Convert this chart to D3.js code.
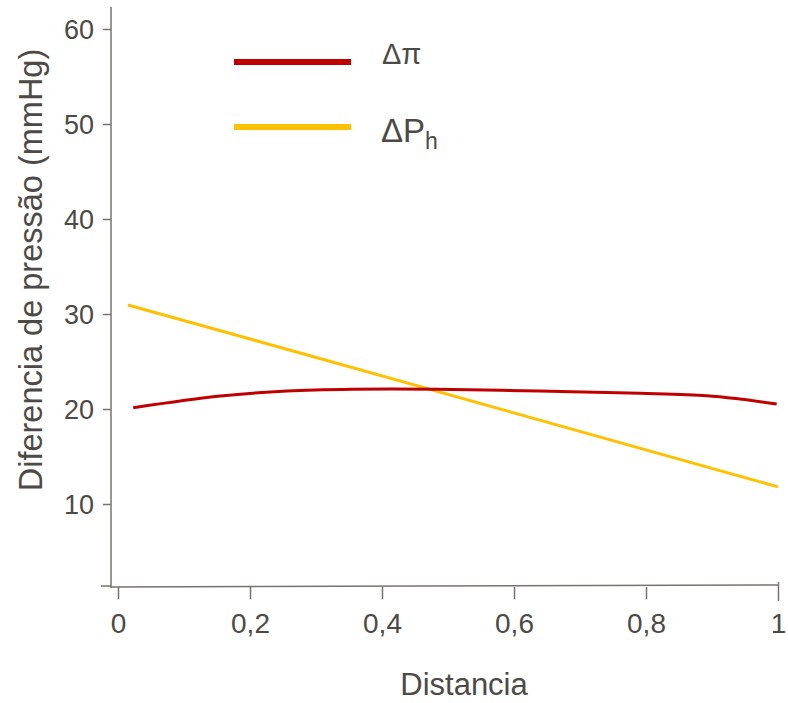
<!DOCTYPE html>
<html>
<head>
<meta charset="utf-8">
<script src="https://cdn.jsdelivr.net/npm/d3@7"></script>
<style>
  body { margin: 0; background: #fff; }
  svg { display: block; font-family: Arial, "Liberation Sans", sans-serif; }
</style>
</head>
<body>
<svg width="788" height="703"></svg>
<script>
// data
const xTicks = [0, 0.2, 0.4, 0.6, 0.8, 1];
const yTicks = [10, 20, 30, 40, 50, 60];

// Δπ (red)
const piX = [0.023, 0.155, 0.256, 0.356, 0.483, 0.639, 0.791, 0.892, 0.942, 0.998];
const piY = [20.14, 21.37, 21.89, 22.07, 22.07, 21.89, 21.65, 21.4, 21.05, 20.53];

// ΔPh (yellow)
const phX = [0.015, 0.276, 1];
const phY = [30.95, 25.9, 11.8];

const svg = d3.select('svg');
const textColor = '#4d4a45';
const axisColor = '#77736d';

// scales: 0 -> 118px, 1 -> 778px ; 10 -> 504px, 60 -> 29px
const xScale = d3.scaleLinear().domain([0, 1]).range([118, 778]);
const yScale = d3.scaleLinear().domain([10, 60]).range([504, 29]);
const yMin = yScale.invert(586);
const yTop = yScale.invert(7);

// y axis
const yAxis = d3.axisLeft(yScale)
    .tickValues(yTicks)
    .tickSize(8)
    .tickPadding(9)
    .tickFormat(d3.format('d'));

const gy = svg.append('g')
    .attr('transform', 'translate(111,0)')
    .call(yAxis);
gy.select('.domain').remove();
gy.append('line')
    .attr('x1', 0).attr('x2', 0)
    .attr('y1', yScale(yTop)).attr('y2', 588)
    .attr('stroke', axisColor).attr('stroke-width', 1.5);
// unlabeled tick at the bottom end
gy.append('line')
    .attr('x1', -10).attr('x2', 0)
    .attr('y1', yScale(yMin)).attr('y2', yScale(yMin))
    .attr('stroke', axisColor).attr('stroke-width', 1.5);
gy.selectAll('.tick line').attr('stroke', axisColor).attr('stroke-width', 1.5);
gy.selectAll('.tick text')
    .attr('fill', textColor)
    .style('font-size', '27px')
    .attr('dy', '0.35em');

// x axis
const xAxis = d3.axisBottom(xScale)
    .tickValues(xTicks)
    .tickSize(12)
    .tickPadding(14)
    .tickFormat(d => d === 0 || d === 1 ? d3.format('d')(d) : d3.format('.1f')(d).replace('.', ','));

const gx = svg.append('g')
    .attr('transform', 'translate(0,587)')
    .call(xAxis);
gx.select('.domain').remove();
gx.append('line')
    .attr('x1', 111).attr('x2', xScale(1))
    .attr('y1', 0).attr('y2', -2)
    .attr('stroke', axisColor).attr('stroke-width', 1.5);
gx.selectAll('.tick line').attr('stroke', axisColor).attr('stroke-width', 1.5);
gx.selectAll('.tick').filter(d => d === 1).select('line').attr('y1', -5).attr('y2', 14);
gx.selectAll('.tick text')
    .attr('fill', textColor)
    .style('font-size', '28px');

// axis titles
svg.append('text')
    .attr('text-anchor', 'middle')
    .attr('transform', 'translate(42,270) rotate(-90)')
    .attr('fill', textColor)
    .style('font-size', '32.5px')
    .text('Diferencia de pressão (mmHg)');

svg.append('text')
    .attr('text-anchor', 'middle')
    .attr('x', 464)
    .attr('y', 695)
    .attr('fill', textColor)
    .style('font-size', '31px')
    .text('Distancia');

// lines
const line = d3.line()
    .x(d => xScale(d[0]))
    .y(d => yScale(d[1]));

svg.append('path')
    .datum(phX.map((x, i) => [x, phY[i]]))
    .attr('d', line.curve(d3.curveLinear))
    .attr('fill', 'none')
    .attr('stroke', '#ffc000')
    .attr('stroke-width', 3);

svg.append('path')
    .datum(piX.map((x, i) => [x, piY[i]]))
    .attr('d', line.curve(d3.curveCatmullRom))
    .attr('fill', 'none')
    .attr('stroke', '#c00000')
    .attr('stroke-width', 3);

// legend
const legend = svg.append('g');
legend.append('line')
    .attr('x1', 234).attr('x2', 351)
    .attr('y1', 62).attr('y2', 62)
    .attr('stroke', '#c00000').attr('stroke-width', 6);
legend.append('line')
    .attr('x1', 234).attr('x2', 351)
    .attr('y1', 127).attr('y2', 127)
    .attr('stroke', '#ffc000').attr('stroke-width', 6);

legend.append('text')
    .attr('x', 382).attr('y', 64)
    .attr('fill', textColor)
    .style('font-size', '29px')
    .text('Δπ');

const ph = legend.append('text')
    .attr('x', 381).attr('y', 142)
    .attr('fill', textColor)
    .style('font-size', '33px');
ph.append('tspan').text('ΔP');
ph.append('tspan')
    .attr('dy', 7)
    .style('font-size', '23px')
    .text('h');
</script>
</body>
</html>
